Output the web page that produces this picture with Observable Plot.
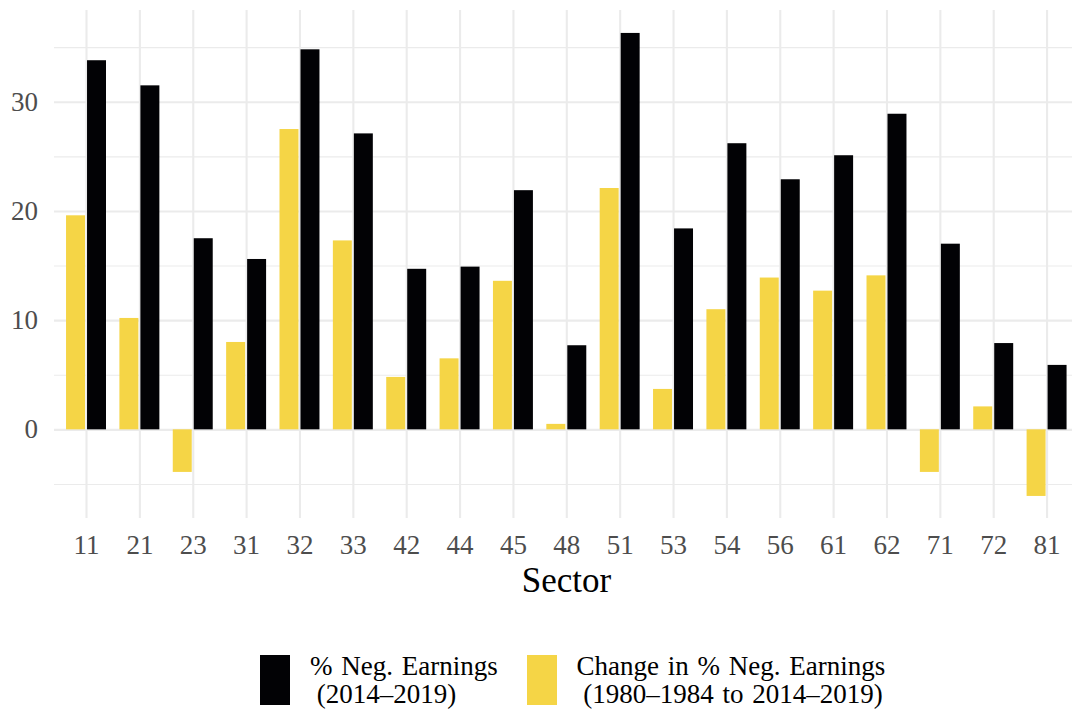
<!DOCTYPE html>
<html>
<head>
<meta charset="utf-8">
<script src="https://cdn.jsdelivr.net/npm/d3@7"></script>
<script src="https://cdn.jsdelivr.net/npm/@observablehq/plot@0.6"></script>
<style>
  html, body { margin: 0; padding: 0; background: white; }
  body { position: relative; width: 1072px; height: 710px; overflow: hidden; font-family: "Liberation Serif", "Times New Roman", serif; }
  #legend { position: absolute; left: 260px; top: 652px; display: flex; align-items: center; }
  .item { display: flex; align-items: center; }
  .key { width: 30px; height: 50px; flex: none; }
  .lbl { font-size: 27px; line-height: 28px; color: #000; white-space: pre; margin-left: 20px; word-spacing: 2px; }
  .lbl .l2 { text-indent: -2px; }
</style>
</head>
<body>
<div id="chart"></div>
<div id="legend"></div>
<script>
const sectors = ["11","21","23","31","32","33","42","44","45","48","51","53","54","56","61","62","71","72","81"];
const negEarnings = [33.8,31.5,17.5,15.6,34.8,27.1,14.7,14.9,21.9,7.7,36.3,18.4,26.2,22.9,25.1,28.9,17.0,7.9,5.9];
const changeNeg = [19.6,10.2,-3.9,8.0,27.5,17.3,4.8,6.5,13.6,0.5,22.1,3.7,11.0,13.9,12.7,14.1,-3.9,2.1,-6.1];
const yTicks = [0,10,20,30];
const yMinorTicks = [-5,5,15,25,35];
const seriesNames = ["% Neg. Earnings\n (2014\u20132019)", "Change in % Neg. Earnings\n (1980\u20131984 to 2014\u20132019)"];
const seriesColors = ["#020205", "#F5D546"];
const xTitle = "Sector";

const rows = sectors.map((s, i) => ({sector: s, neg: negEarnings[i], change: changeNeg[i]}));

const W = 1072, H = 620;
const mL = 54, mT = 10, mB = 102;
const panelRight = 1078.6; // panel extends slightly beyond the page, as in the original
const grid = "#EBEBEB";

const chart = Plot.plot({
  width: W,
  height: H,
  marginLeft: mL,
  marginRight: 0,
  marginTop: mT,
  marginBottom: mB,
  style: {fontFamily: "'Liberation Serif', 'Times New Roman', serif", fontSize: "27px", color: "#4D4D4D", background: "white"},
  x: {domain: sectors, range: [mL, panelRight], paddingInner: 0, paddingOuter: 0.1, align: 0.5, round: false, tickSize: 0, tickPadding: 16.5, label: null},
  y: {domain: [-8.12, 38.4], ticks: yTicks, tickSize: 0, tickPadding: 16.5, label: null},
  marks: [
    Plot.ruleY(yMinorTicks, {stroke: grid, strokeWidth: 1.1}),
    Plot.ruleY(yTicks, {stroke: grid, strokeWidth: 2.1}),
    Plot.ruleX(sectors, {x: d => d, stroke: grid, strokeWidth: 2.1}),
    Plot.barY(rows, {x: "sector", y: "change", fill: seriesColors[1], insetLeft: 6.7, insetRight: 27.7}),
    Plot.barY(rows, {x: "sector", y: "neg", fill: seriesColors[0], insetLeft: 27.7, insetRight: 6.7}),
    Plot.text([xTitle], {text: d => d, frameAnchor: "bottom", dy: 62, dx: 3, fontSize: 35, fill: "#000", lineAnchor: "middle"})
  ]
});
document.getElementById("chart").appendChild(chart);

const legend = document.getElementById("legend");
const widths = [266.5, null];
seriesNames.forEach((name, i) => {
  const item = document.createElement("div");
  item.className = "item";
  if (widths[i]) item.style.width = widths[i] + "px";
  const key = document.createElement("div");
  key.className = "key";
  key.style.background = seriesColors[i];
  const lbl = document.createElement("div");
  lbl.className = "lbl";
  name.split("\n").forEach((line, j) => {
    const ln = document.createElement("div");
    ln.className = j === 0 ? "l1" : "l2";
    ln.textContent = line;
    lbl.appendChild(ln);
  });
  item.appendChild(key);
  item.appendChild(lbl);
  legend.appendChild(item);
});
</script>
</body>
</html>
